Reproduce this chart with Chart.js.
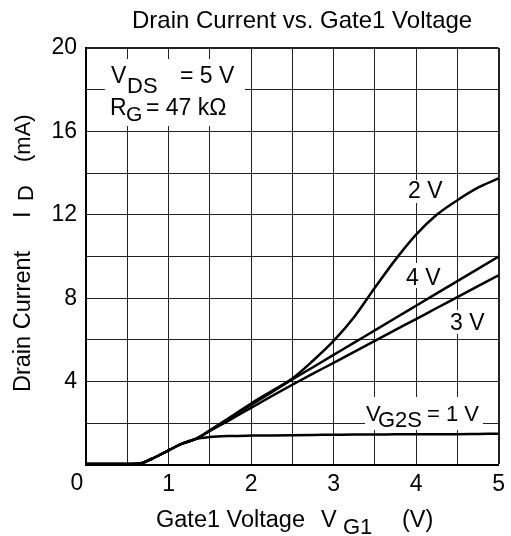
<!DOCTYPE html>
<html>
<head>
<meta charset="utf-8">
<script src="https://cdn.jsdelivr.net/npm/chart.js@4/dist/chart.umd.min.js"></script>
<style>
  html, body { margin: 0; padding: 0; background: #fff; }
  #wrap { width: 511px; height: 536px; }
</style>
</head>
<body>
<div id="wrap"><canvas id="myChart" width="511" height="536"></canvas></div>
<script>
// gate1 voltage (V) sample points
const vg1 = [0, 0.3, 0.5, 0.65, 0.8, 1.0, 1.15, 1.33, 1.5, 1.75, 2.0, 2.25, 2.5, 2.75, 3.0, 3.25, 3.5, 3.75, 4.0, 4.25, 4.5, 4.75, 5.0];

// drain current (mA) for each VG2S
const id1V = [0.05, 0.05, 0.05, 0.07, 0.3, 0.7, 1.0, 1.25, 1.34, 1.39, 1.41, 1.42, 1.43, 1.44, 1.45, 1.46, 1.46, 1.47, 1.47, 1.48, 1.48, 1.49, 1.5];
const id2V = [0.05, 0.05, 0.05, 0.07, 0.3, 0.7, 1.0, 1.25, 1.65, 2.3, 2.95, 3.55, 4.15, 5.0, 5.95, 7.1, 8.5, 9.85, 11.05, 12.0, 12.7, 13.3, 13.75];
const id3V = [0.05, 0.05, 0.05, 0.07, 0.3, 0.7, 1.0, 1.25, 1.63, 2.18, 2.74, 3.3, 3.85, 4.38, 4.9, 5.43, 5.95, 6.48, 7.0, 7.53, 8.05, 8.58, 9.1];
const id4V = [0.05, 0.05, 0.05, 0.07, 0.3, 0.7, 1.0, 1.25, 1.66, 2.27, 2.88, 3.49, 4.1, 4.69, 5.28, 5.87, 6.46, 7.05, 7.64, 8.23, 8.82, 9.41, 10.0];

// tick labels
const xTickLabels = [1, 2, 3, 4, 5];
const yTickLabels = [4, 8, 12, 16, 20];

const FONT = '"Liberation Sans", Arial, sans-serif';

function toPoints(ys) {
    return vg1.map((x, i) => ({ x: x, y: ys[i] }));
}

function txt(ctx, s, x, y, size) {
    ctx.font = size + 'px ' + FONT;
    ctx.fillStyle = '#000';
    ctx.textAlign = 'left';
    ctx.textBaseline = 'alphabetic';
    ctx.fillText(s, x, y);
}

function whiteBox(ctx, x1, y1, x2, y2) {
    ctx.fillStyle = '#fff';
    ctx.fillRect(x1, y1, x2 - x1, y2 - y1);
}

// white boxes behind the labels go over the grid but under the curves
const boxPlugin = {
    id: 'boxes',
    beforeDatasetsDraw(chart) {
        const ctx = chart.ctx;
        ctx.save();
        whiteBox(ctx, 105, 59, 245, 126);
        whiteBox(ctx, 365, 397, 483, 430);
        whiteBox(ctx, 405, 180, 447, 203);
        whiteBox(ctx, 404, 263, 445, 288);
        whiteBox(ctx, 447, 310, 490, 334);
        ctx.restore();
    }
};

// title, axis titles and curve labels
const textPlugin = {
    id: 'texts',
    afterDraw(chart) {
        const ctx = chart.ctx;
        ctx.save();
        txt(ctx, 'Drain Current vs. Gate1 Voltage', 132, 28, 24);

        // box in the upper left
        txt(ctx, 'V', 111, 83, 23);
        txt(ctx, 'DS', 127, 93, 22);
        txt(ctx, '= 5 V', 180, 83, 23);
        txt(ctx, 'R', 110, 115, 23);
        txt(ctx, 'G', 126, 121, 21);
        txt(ctx, '= 47 k\u03A9', 146, 115, 23);

        // curve labels
        txt(ctx, '2 V', 408, 198, 23);
        txt(ctx, '4 V', 406, 285, 23);
        txt(ctx, '3 V', 450, 330, 23);
        txt(ctx, 'V', 366, 421, 22);
        txt(ctx, 'G2S', 378, 427, 22);
        txt(ctx, '= 1 V', 427, 421, 22);

        // zero at the corner
        ctx.font = '23px ' + FONT;
        ctx.textAlign = 'center';
        ctx.textBaseline = 'middle';
        ctx.fillText('0', 77, 484);

        // x axis title
        txt(ctx, 'Gate1 Voltage', 156, 527, 23.5);
        txt(ctx, 'V', 321, 527, 23.5);
        txt(ctx, 'G1', 343, 534, 22);
        txt(ctx, '(V)', 402, 527, 23.5);

        // y axis title, rotated
        ctx.translate(30, 392);
        ctx.rotate(-Math.PI / 2);
        txt(ctx, 'Drain Current', 0, 0, 23.5);
        txt(ctx, 'I', 174, 0, 23.5);
        txt(ctx, 'D', 191, 3, 22);
        txt(ctx, '(mA)', 230, 0, 22);
        ctx.restore();
    }
};

const ctx = document.getElementById('myChart').getContext('2d');

const lineStyle = {
    borderColor: '#000',
    borderWidth: 2.5,
    pointRadius: 0,
    fill: false,
    cubicInterpolationMode: 'monotone'
};

const chart = new Chart(ctx, {
    type: 'line',
    data: {
        datasets: [
            Object.assign({ label: 'VG2S = 1 V', data: toPoints(id1V) }, lineStyle),
            Object.assign({ label: '2 V', data: toPoints(id2V) }, lineStyle),
            Object.assign({ label: '3 V', data: toPoints(id3V) }, lineStyle),
            Object.assign({ label: '4 V', data: toPoints(id4V) }, lineStyle)
        ]
    },
    options: {
        responsive: false,
        animation: false,
        layout: { padding: { top: 48, right: 10, left: 0, bottom: 0 } },
        plugins: {
            legend: { display: false },
            tooltip: { enabled: false },
            title: { display: false }
        },
        scales: {
            x: {
                type: 'linear',
                min: 0,
                max: 5,
                afterFit: s => { s.height = 71; },
                grid: {
                    color: '#222',
                    lineWidth: c => (c.tick && (c.tick.value === 5) ? 2 : 1),
                    drawTicks: false
                },
                border: { color: '#000', width: 2 },
                ticks: {
                    stepSize: 0.5,
                    autoSkip: false,
                    maxRotation: 0,
                    padding: 6,
                    color: '#000',
                    font: { family: FONT, size: 23 },
                    callback: v => (xTickLabels.includes(v) ? String(v) : '')
                }
            },
            y: {
                min: 0,
                max: 20,
                afterFit: s => { s.width = 86; },
                grid: {
                    color: '#222',
                    lineWidth: c => (c.tick && (c.tick.value === 20) ? 2 : 1),
                    drawTicks: false
                },
                border: { color: '#000', width: 2 },
                ticks: {
                    stepSize: 2,
                    autoSkip: false,
                    padding: 9,
                    color: '#000',
                    font: { family: FONT, size: 23 },
                    callback: v => (yTickLabels.includes(v) ? String(v) : '')
                }
            }
        }
    },
    plugins: [boxPlugin, textPlugin]
});
</script>
</body>
</html>
